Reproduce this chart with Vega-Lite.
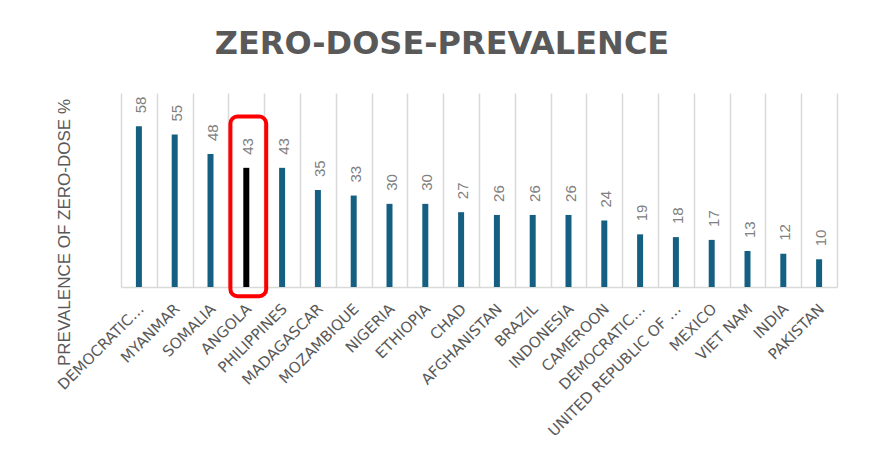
{
  "$schema": "https://vega.github.io/schema/vega-lite/v6.json",
  "width": 716,
  "height": 194,
  "autosize": {"type": "none"},
  "padding": {"left": 121, "top": 93, "right": 32, "bottom": 189},
  "background": "white",
  "config": {"view": {"stroke": null}},
  "title": {
    "text": "ZERO-DOSE-PREVALENCE",
    "font": "DejaVu Sans",
    "fontSize": 32,
    "fontWeight": "bold",
    "color": "#595959",
    "anchor": "middle",
    "offset": 32,
    "dx": -37
  },
  "data": {
    "values": [
      {"country": "DEMOCRATIC REPUBLIC OF THE CONGO", "value": 58},
      {"country": "MYANMAR", "value": 55},
      {"country": "SOMALIA", "value": 48},
      {"country": "ANGOLA", "value": 43},
      {"country": "PHILIPPINES", "value": 43},
      {"country": "MADAGASCAR", "value": 35},
      {"country": "MOZAMBIQUE", "value": 33},
      {"country": "NIGERIA", "value": 30},
      {"country": "ETHIOPIA", "value": 30},
      {"country": "CHAD", "value": 27},
      {"country": "AFGHANISTAN", "value": 26},
      {"country": "BRAZIL", "value": 26},
      {"country": "INDONESIA", "value": 26},
      {"country": "CAMEROON", "value": 24},
      {"country": "DEMOCRATIC PEOPLE’S REPUBLIC OF KOREA", "value": 19},
      {"country": "UNITED REPUBLIC OF TANZANIA", "value": 18},
      {"country": "MEXICO", "value": 17},
      {"country": "VIET NAM", "value": 13},
      {"country": "INDIA", "value": 12},
      {"country": "PAKISTAN", "value": 10}
    ]
  },
  "encoding": {
    "x": {
      "field": "country",
      "type": "nominal",
      "sort": null,
      "scale": {"paddingInner": 0, "paddingOuter": 0},
      "axis": {
        "title": null,
        "labelAngle": -45,
        "labelFont": "DejaVu Sans",
        "labelFontSize": 15,
        "labelColor": "#595959",
        "labelPadding": 14,
        "labelOffset": -3,
        "labelLimit": 0,
        "labelExpr": "indexof(datum.label,'DEMOCRATIC')==0 ? 'DEMOCRATIC…' : indexof(datum.label,'UNITED REPUBLIC')==0 ? 'UNITED REPUBLIC OF …' : datum.label",
        "ticks": false,
        "domainColor": "#d9d9d9",
        "domainWidth": 1.5,
        "grid": true,
        "gridColor": "#d9d9d9",
        "gridWidth": 1.5,
        "tickBand": "extent"
      }
    },
    "y": {
      "field": "value",
      "type": "quantitative",
      "scale": {"domain": [0, 70]},
      "axis": {
        "title": "PREVALENCE OF ZERO-DOSE %",
        "labels": false,
        "ticks": false,
        "domain": false,
        "grid": false,
        "titleFont": "Liberation Sans",
        "titleFontSize": 17,
        "titleFontWeight": "normal",
        "titleColor": "#595959",
        "titleBaseline": "middle",
        "titleX": -57,
        "titleY": 139
      }
    }
  },
  "layer": [
    {
      "mark": {"type": "bar", "width": 6},
      "encoding": {
        "color": {
          "condition": {"test": "datum.country === 'ANGOLA'", "value": "#000000"},
          "value": "#156082"
        }
      }
    },
    {
      "mark": {
        "type": "text",
        "angle": 270,
        "align": "left",
        "baseline": "middle",
        "dx": 13,
        "dy": 2,
        "font": "Liberation Sans",
        "fontSize": 15,
        "color": "#808080"
      },
      "encoding": {"text": {"field": "value", "type": "quantitative"}}
    },
    {
      "transform": [{"filter": "datum.country === 'ANGOLA'"}],
      "mark": {
        "type": "rect",
        "fill": "transparent",
        "stroke": "#ff0000",
        "strokeWidth": 4,
        "cornerRadius": 7,
        "xOffset": 2
      },
      "encoding": {
        "y": {"datum": 61.5},
        "y2": {"datum": -3.3}
      }
    }
  ]
}
